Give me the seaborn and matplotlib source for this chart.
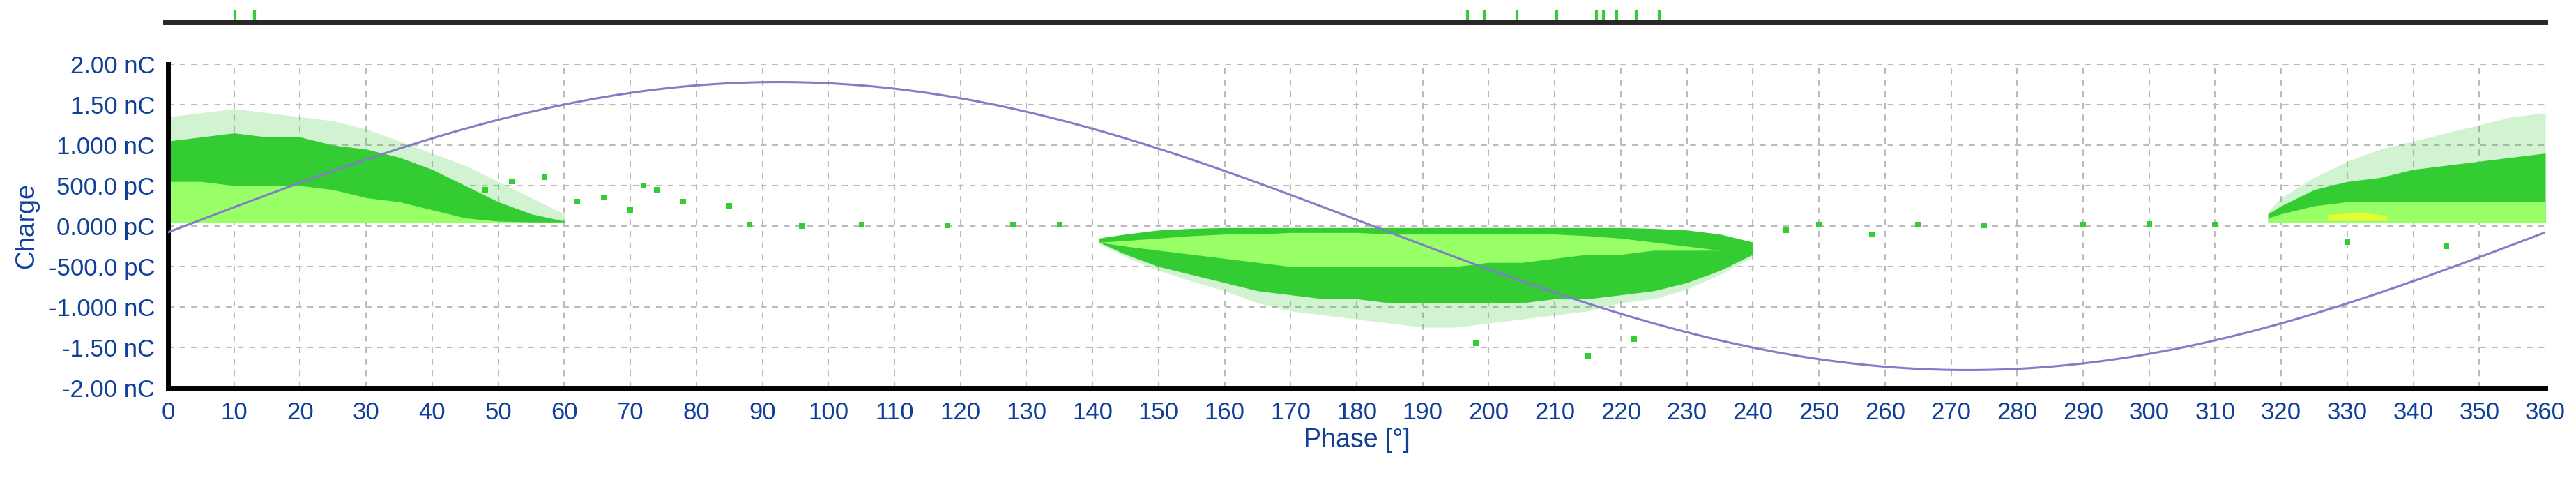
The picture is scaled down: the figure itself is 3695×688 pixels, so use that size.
import numpy as np
import pandas as pd
import matplotlib
matplotlib.use("Agg")
import matplotlib.pyplot as plt
import seaborn as sns

sns.set_style("white")
plt.rcParams['font.family'] = ['Liberation Sans', 'DejaVu Sans']

# ---- data (charge in nC, phase in degrees) ----
# Positive cluster near 0 deg
a_phase = [0, 5, 10, 15, 20, 25, 30, 35, 40, 45, 50, 55, 60]
a_sparse_top = [1.35, 1.4, 1.45, 1.4, 1.35, 1.3, 1.2, 1.05, 0.9, 0.75, 0.55, 0.35, 0.15]
a_dense_top = [1.05, 1.1, 1.15, 1.1, 1.1, 1.0, 0.95, 0.85, 0.7, 0.5, 0.3, 0.15, 0.06]
a_core_top = [0.55, 0.55, 0.5, 0.5, 0.5, 0.45, 0.35, 0.3, 0.2, 0.1, 0.06, 0.05, 0.05]
a_bottom = [0.04, 0.04, 0.04, 0.04, 0.04, 0.04, 0.04, 0.04, 0.04, 0.04, 0.04, 0.04, 0.04]

# Negative cluster near 190 deg
b_phase = [141, 145, 150, 155, 160, 165, 170, 175, 180, 185, 190, 195, 200, 205, 210, 215, 220, 225, 230, 235, 240]
b_top = [-0.15, -0.1, -0.05, -0.03, -0.02, -0.02, -0.02, -0.02, -0.02, -0.02, -0.02, -0.02, -0.02, -0.02, -0.02, -0.02, -0.02, -0.03, -0.05, -0.1, -0.2]
b_core_top = [-0.2, -0.18, -0.15, -0.12, -0.1, -0.1, -0.08, -0.08, -0.08, -0.1, -0.1, -0.1, -0.1, -0.1, -0.1, -0.12, -0.15, -0.2, -0.25, -0.3, -0.25]
b_core_bottom = [-0.2, -0.25, -0.3, -0.35, -0.4, -0.45, -0.5, -0.5, -0.5, -0.5, -0.5, -0.5, -0.45, -0.45, -0.4, -0.35, -0.35, -0.3, -0.3, -0.3, -0.25]
b_dense_bottom = [-0.2, -0.35, -0.5, -0.6, -0.7, -0.8, -0.85, -0.9, -0.9, -0.95, -0.95, -0.95, -0.95, -0.95, -0.9, -0.9, -0.85, -0.8, -0.7, -0.55, -0.35]
b_sparse_bottom = [-0.22, -0.38, -0.55, -0.68, -0.8, -0.95, -1.05, -1.1, -1.15, -1.2, -1.25, -1.25, -1.2, -1.15, -1.1, -1.05, -0.95, -0.9, -0.78, -0.6, -0.38]

# Positive cluster near 340 deg
c_phase = [318, 320, 325, 330, 335, 340, 345, 350, 355, 360]
c_sparse_top = [0.18, 0.35, 0.6, 0.8, 0.95, 1.05, 1.15, 1.25, 1.35, 1.4]
c_dense_top = [0.15, 0.25, 0.45, 0.55, 0.6, 0.7, 0.75, 0.8, 0.85, 0.9]
c_core_top = [0.1, 0.15, 0.25, 0.3, 0.3, 0.3, 0.3, 0.3, 0.3, 0.3]
c_bottom = [0.04, 0.04, 0.04, 0.04, 0.04, 0.04, 0.04, 0.04, 0.04, 0.04]
c_hot_phase = [327, 330, 333, 336]
c_hot_top = [0.14, 0.16, 0.16, 0.13]
c_hot_bottom = [0.07, 0.07, 0.07, 0.07]

# isolated pulses
out_phase = [62, 66, 70, 74, 78, 85, 88, 96, 105, 118, 128, 135, 245, 250, 258, 265, 275, 290, 300, 310, 52, 57, 48, 72, 198, 215, 222, 330, 345]
out_charge = [0.3, 0.35, 0.2, 0.45, 0.3, 0.25, 0.02, 0.0, 0.02, 0.01, 0.02, 0.02, -0.05, 0.02, -0.1, 0.02, 0.01, 0.02, 0.03, 0.02, 0.55, 0.6, 0.45, 0.5, -1.45, -1.6, -1.4, -0.2, -0.25]

# reference sine (test voltage, scaled)
sine_amp = 1.78
sine_shift = 2.5

# top strip marks (phase of events)
strip_marks = [10.5, 13.5, 197, 199.5, 204.5, 210.5, 216.5, 217.5, 219.5, 222.5, 226]

ytick_vals = [2.0, 1.5, 1.0, 0.5, 0.0, -0.5, -1.0, -1.5, -2.0]
ytick_labels = ["2.00 nC", "1.50 nC", "1.000 nC", "500.0 pC", "0.000 pC",
                "-500.0 pC", "-1.000 nC", "-1.50 nC", "-2.00 nC"]

# ---- style ----
DARK = "#33CC33"
LIGHT = "#99FF66"
YEL = "#E6FF33"
TXT = "#0F3F99"

fig = plt.figure(figsize=(36.95, 6.88), dpi=100)
ax = fig.add_axes([241/3695, (688-556)/688, (3651-241)/3695, (556-92)/688])

def band(x, lo, hi, color, alpha=1.0):
    ax.fill_between(x, lo, hi, color=color, alpha=alpha, linewidth=0, zorder=2)

band(a_phase, a_bottom, a_sparse_top, DARK, 0.22)
band(a_phase, a_bottom, a_dense_top, DARK)
band(a_phase, a_bottom, a_core_top, LIGHT)
band(b_phase, b_sparse_bottom, b_top, DARK, 0.22)
band(b_phase, b_dense_bottom, b_top, DARK)
band(b_phase, b_core_bottom, b_core_top, LIGHT)
band(c_phase, c_bottom, c_sparse_top, DARK, 0.22)
band(c_phase, c_bottom, c_dense_top, DARK)
band(c_phase, c_bottom, c_core_top, LIGHT)
band(c_hot_phase, c_hot_bottom, c_hot_top, YEL)
ax.scatter(out_phase, out_charge, s=30, marker="s", color=DARK, linewidths=0, zorder=3)

ph = np.arange(0, 361, 1)
sine_df = pd.DataFrame({"phase": ph, "v": sine_amp * np.sin(np.deg2rad(ph - sine_shift))})
sns.lineplot(data=sine_df, x="phase", y="v", ax=ax, color="#7F7FC8", linewidth=2.2, zorder=4)

ax.set_xlim(0, 360)
ax.set_ylim(-2, 2)
ax.set_xticks(np.arange(0, 361, 10))
ax.set_xticks(np.arange(0, 361, 2.5), minor=True)
ax.set_yticks(ytick_vals)
ax.set_yticklabels(ytick_labels)
ax.set_yticks(np.arange(-2, 2.01, 0.125), minor=True)
ax.grid(True, which="major", color="#BBBBBB", linestyle=(0, (4, 4)), linewidth=1.5, zorder=0)
ax.tick_params(axis="both", which="major", labelsize=25, labelcolor=TXT, color="#777777",
               length=10, width=2, direction="out")
ax.tick_params(axis="both", which="minor", color="#777777", length=5, width=2, direction="out")
for s in ["top", "right"]:
    ax.spines[s].set_visible(False)
for s in ["left", "bottom"]:
    ax.spines[s].set_linewidth(5)
    ax.spines[s].set_color("black")
ax.set_xlabel("Phase [°]", fontsize=27, color=TXT, labelpad=4)
ax.set_ylabel("Charge", fontsize=27, color=TXT, labelpad=10)

# top strip
ax2 = fig.add_axes([237/3695, (688-32)/688, (3651-237)/3695, 18/688])
ax2.vlines(strip_marks, 0.1, 1.0, color=DARK, linewidth=3)
ax2.set_xlim(0, 360)
ax2.set_ylim(0, 1)
ax2.set_yticks([])
ax2.set_xticks(np.arange(0, 361, 10))
ax2.set_xticks(np.arange(0, 361, 2.5), minor=True)
ax2.tick_params(axis="x", which="major", length=12, width=2, color="#777777", labelbottom=False)
ax2.tick_params(axis="x", which="minor", length=6, width=2, color="#777777")
for s in ["top", "right", "left"]:
    ax2.spines[s].set_visible(False)
ax2.spines["bottom"].set_linewidth(5)
ax2.patch.set_alpha(0)

fig.savefig("out.png", dpi=100)
